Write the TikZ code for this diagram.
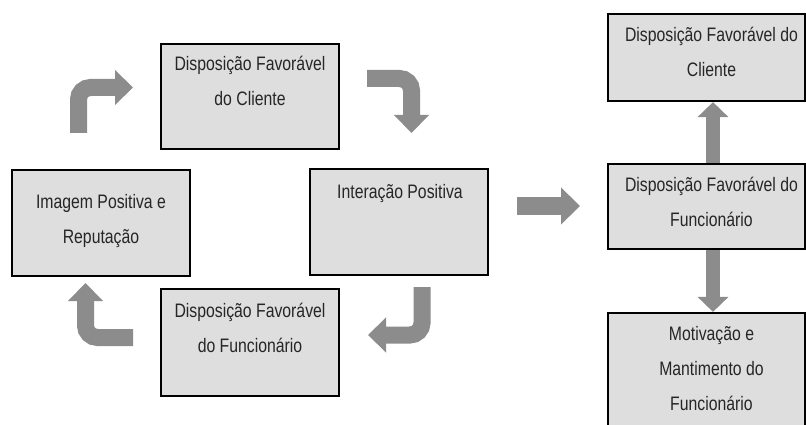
\documentclass[tikz,border=0pt]{standalone}
\usepackage{fontspec}
\setmainfont{Liberation Sans}[FakeStretch=0.81]
\usetikzlibrary{arrows.meta}
\definecolor{boxgray}{HTML}{DEDEDE}
\definecolor{arrowgray}{HTML}{8C8C8C}
\begin{document}
\begin{tikzpicture}[x=1pt,y=-1pt,
  box/.style={draw=black, line width=2.2pt, fill=boxgray, inner sep=0pt, minimum width=178pt},
  txt/.style={align=center, anchor=base, inner sep=0pt, font=\fontsize{19.5}{35}\selectfont, text=black!85},
  bentarrow/.style={draw=arrowgray, line width=17pt, rounded corners=12pt, -{Triangle[width=34pt,length=18pt]}},
  straightarrow/.style={draw=arrowgray, line width=14pt, -{Triangle[width=30pt,length=15pt]}},
  bigarrow/.style={draw=arrowgray, line width=18pt, -{Triangle[width=36pt,length=19pt]}}]
\useasboundingbox (0,0) rectangle (806,425);
\fill[white] (0,0) rectangle (806,425);
% cycle boxes
\node[box, minimum height=105pt] (c1) at (250,96.5) {};
\node[box, minimum height=106pt] (c2) at (101,223) {};
\node[box, minimum height=106pt] (c3) at (399,222) {};
\node[box, minimum height=107pt] (c4) at (250,342.5) {};
% text nodes are anchored at the baseline of their last line
\node[txt] (t1) at (250,106) {Disposição Favorável\\do Cliente};
\node[txt] (t2) at (101,243.5) {Imagem Positiva e\\Reputação};
\node[txt] (t3) at (400,198) {Interação Positiva};
\node[txt] (t4) at (250,352) {Disposição Favorável\\do Funcionário};
% right column
\node[box, minimum width=197pt, minimum height=87pt] (r1) at (706.5,57.5) {};
\node[box, minimum width=197pt, minimum height=85pt] (r2) at (706.5,206.5) {};
\node[box, minimum width=197pt, minimum height=124pt] (r3) at (706.5,375) {};
\node[txt] (s1) at (711.5,77) {Disposição Favorável do\\Cliente};
\node[txt] (s2) at (711.5,226.5) {Disposição Favorável do\\Funcionário};
\node[txt] (s3) at (711.5,410) {Motivação e\\Mantimento do\\Funcionário};
% cycle arrows
\coordinate (a1s) at (78.5,133);  \coordinate (a1c) at (78.5,87.5);  \coordinate (a1e) at (133,87.5);
\coordinate (a2s) at (367,78.5);  \coordinate (a2c) at (411.5,78.5); \coordinate (a2e) at (411.5,133);
\coordinate (a3s) at (422,287);   \coordinate (a3c) at (422,335);    \coordinate (a3e) at (368,335);
\coordinate (a4s) at (133,337.5); \coordinate (a4c) at (85.5,337.5); \coordinate (a4e) at (85.5,283);
\draw[bentarrow] (a1s) -- (a1c) -- (a1e);
\draw[bentarrow] (a2s) -- (a2c) -- (a2e);
\draw[bentarrow] (a3s) -- (a3c) -- (a3e);
\draw[bentarrow] (a4s) -- (a4c) -- (a4e);
% big arrow
\coordinate (bs) at (517,206); \coordinate (be) at (580,206);
\draw[bigarrow] (bs) -- (be);
% vertical arrows
\coordinate (ax) at (713,0);
\draw[straightarrow] (r2.north -| ax) -- (r1.south -| ax);
\draw[straightarrow] (r2.south -| ax) -- (r3.north -| ax);
\end{tikzpicture}
\end{document}
